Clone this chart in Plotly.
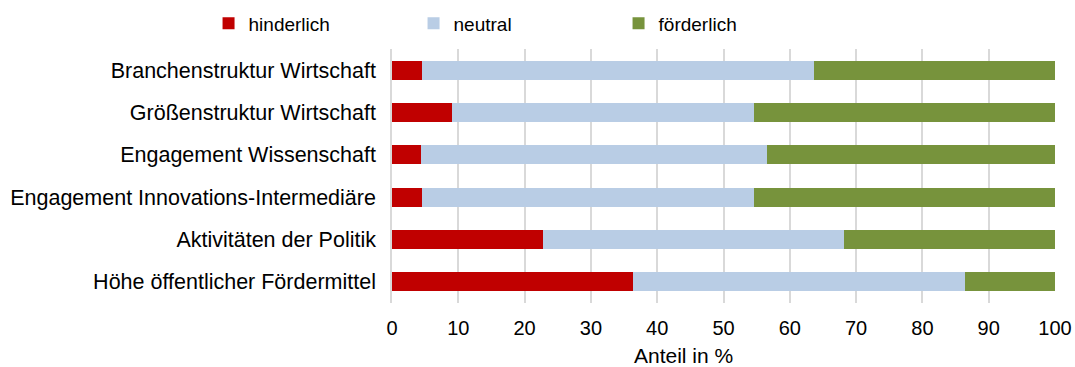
import plotly.graph_objects as go

categories = [
    "Branchenstruktur Wirtschaft",
    "Größenstruktur Wirtschaft",
    "Engagement Wissenschaft",
    "Engagement Innovations-Intermediäre",
    "Aktivitäten der Politik",
    "Höhe öffentlicher Fördermittel",
]
hinderlich = [4.5, 9.1, 4.3, 4.5, 22.7, 36.4]
neutral = [59.2, 45.5, 52.3, 50.1, 45.5, 50.0]
foerderlich = [round(100 - h - n, 1) for h, n in zip(hinderlich, neutral)]
x_title = "Anteil in %"

series = [
    ("hinderlich", hinderlich, "#C00000"),
    ("neutral", neutral, "#B9CDE5"),
    ("förderlich", foerderlich, "#77933C"),
]

fig = go.Figure()
for name, vals, col in series:
    fig.add_trace(go.Bar(
        y=categories, x=vals, name=name, orientation="h",
        marker=dict(color=col, line=dict(width=0)),
        width=0.45,
    ))

fig.update_layout(
    barmode="stack",
    width=1075, height=367,
    margin=dict(l=392, r=20, t=49, b=64, autoexpand=False),
    plot_bgcolor="white", paper_bgcolor="white",
    font=dict(family="Liberation Sans, Arial, sans-serif", size=20, color="#000000"),
    legend=dict(
        orientation="h", xref="container", x=0.194, xanchor="left",
        yref="container", y=0.988, yanchor="top",
        entrywidth=160, traceorder="normal",
        font=dict(size=19),
        itemwidth=30,
    ),
    showlegend=True,
    annotations=[dict(
        text=x_title, xref="paper", yref="paper", x=0.44, y=0.0,
        xanchor="center", yanchor="middle", yshift=-52, showarrow=False,
        font=dict(size=21),
    )],
)
fig.update_xaxes(
    range=[0, 100], dtick=10, showgrid=True, gridcolor="#D9D9D9", gridwidth=1.5,
    zeroline=False, showline=False, ticks="",
    tickfont=dict(size=20),
    ticklabelstandoff=11,
)
fig.update_yaxes(
    autorange="reversed", showline=True, linecolor="#D9D9D9", linewidth=1.5,
    ticks="", ticklabelstandoff=10, tickfont=dict(size=21.5),
)

fig.write_html("out.html", config={"displayModeBar": False},
               post_script="document.body.style.margin='0px';")
